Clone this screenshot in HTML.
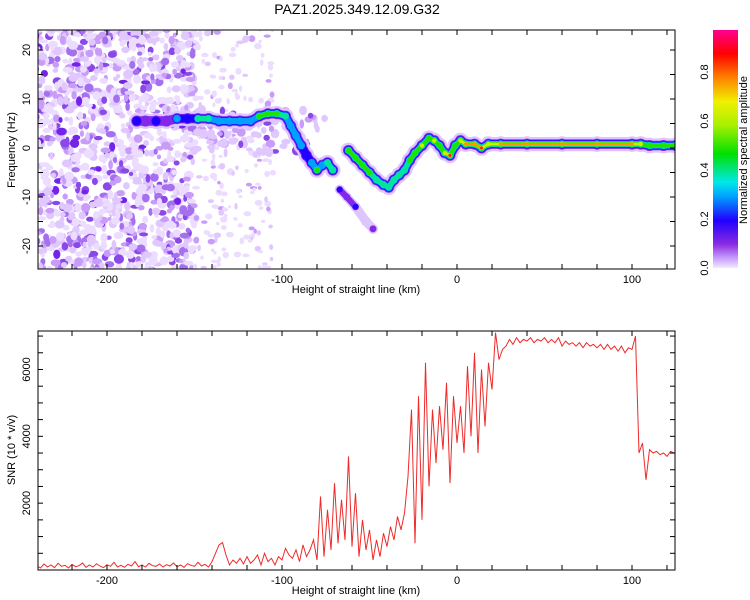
<!DOCTYPE html>
<html><head><meta charset="utf-8">
<style>
html,body{margin:0;padding:0;background:#fff;}
svg{display:block;font-family:"Liberation Sans",sans-serif;}
</style></head>
<body>
<svg id="chart" width="750" height="600" viewBox="0 0 750 600">
<defs>
<linearGradient id="cbar" x1="0" y1="1" x2="0" y2="0">
<stop offset="0" stop-color="#f2eaff"/>
<stop offset="0.04" stop-color="#c8a0ff"/>
<stop offset="0.1" stop-color="#8a2be2"/>
<stop offset="0.2" stop-color="#2000ff"/>
<stop offset="0.3" stop-color="#00a0ff"/>
<stop offset="0.36" stop-color="#00e8e8"/>
<stop offset="0.48" stop-color="#00e000"/>
<stop offset="0.6" stop-color="#a8f000"/>
<stop offset="0.7" stop-color="#f0f000"/>
<stop offset="0.8" stop-color="#ff8000"/>
<stop offset="0.9" stop-color="#ff0000"/>
<stop offset="1" stop-color="#ff0090"/>
</linearGradient>
<clipPath id="clipTop"><rect x="38" y="30" width="637" height="239"/></clipPath>
<clipPath id="clipBot"><rect x="38" y="331" width="637" height="239"/></clipPath>
</defs>
<text x="357" y="14" font-size="14" text-anchor="middle">PAZ1.2025.349.12.09.G32</text>
<g id="topPanel"></g>
<g id="botPanel"></g>
<g id="cbPanel"></g>
</svg>
<script>
// ---- data ----
const ridgeHeights = [-183,-178,-172,-166,-160,-154,-148,-142,-136,-130,-124,-118,-113,-108,-103,-98,-95,-92,-89,-86,-83,-80,-77,-74,-71];
const ridgeFreqs   = [5.5,5.5,5.5,5.5,6,6,6,6,5.5,5.5,5.5,5.5,6.5,7,7,6.5,4.5,2.5,0.5,-1.5,-3,-4.5,-3.5,-3,-4.5];
const ridgeAmps    = [0.2,0.15,0.2,0.15,0.3,0.2,0.45,0.45,0.3,0.35,0.3,0.35,0.5,0.6,0.6,0.45,0.35,0.3,0.3,0.25,0.3,0.5,0.35,0.45,0.4];
const branchHeights = [-67,-63,-58,-52,-48];
const branchFreqs   = [-8.5,-10,-12,-15,-16.5];
const branchAmps    = [0.25,0.1,0.2,0.08,0.15];
const mainHeights = [-62,-58,-54,-50,-46,-42,-39,-36,-33,-30,-27,-24,-20,-16,-13,-10,-7,-4,-1,2,5,10,14,18,25,40,60,80,100,105,110,118,125];
const mainFreqs   = [-0.5,-2,-3.5,-5,-6.5,-7.5,-8,-6.5,-5.5,-4.5,-2.5,-1,0.5,2,1.5,0.5,-1,-1.5,0.5,1.5,0.8,0.8,0,0.8,0.8,0.8,0.8,0.8,0.8,0.8,0.5,0.5,0.5];
const mainAmps    = [0.5,0.55,0.55,0.5,0.45,0.45,0.4,0.4,0.45,0.45,0.55,0.6,0.65,0.6,0.65,0.6,0.7,0.9,0.6,0.7,0.85,0.85,0.9,0.75,0.8,0.8,0.8,0.82,0.8,0.7,0.5,0.5,0.5];
const xTicks = [-200,-100,0,100];
const yTicksTop = [-20,-10,0,10,20];
const yTicksBot = [2000,4000,6000];
const cbTicks = [0.0,0.2,0.4,0.6,0.8];
const snrStart = -240, snrStep = 2;
const snrValues = [120,60,180,90,150,70,200,110,140,60,170,100,130,210,80,150,90,190,120,70,160,110,230,90,140,80,170,120,250,100,150,90,200,130,110,180,90,160,120,210,100,150,80,190,140,110,230,120,170,90,
250,500,750,820,450,150,300,200,350,180,400,200,300,450,150,500,250,350,150,400,300,650,450,350,600,250,750,400,600,900,300,
2200,400,1800,600,2600,800,2100,900,3400,700,2300,400,1500,600,1200,300,900,400,1100,700,1300,900,1600,1200,1700,
2800,4800,800,5200,1500,6200,2500,4800,3200,4900,3600,5600,2600,5200,3800,4900,3500,6100,4000,6500,3500,6000,4300,6200,5400,7100,6300,6600,
6700,6900,6750,6950,6800,6900,6850,6950,6800,6900,6850,6950,6800,6900,6800,6950,6700,6850,6750,6800,6700,6800,6650,6800,6700,6750,6650,6750,6600,6750,6600,6700,6550,6700,6500,6650,6600,7000,
3500,3800,2700,3600,3500,3550,3450,3500,3400,3550,3500];

// ---- scales ----
const NS="http://www.w3.org/2000/svg";
const L=38,R=675,T1=30,B1=269,T2=331,B2=570;
const xs = h => 457 + h*1.75;
const yf = f => 148 - f*4.9;
const ys = v => 570 - v*0.03342;
function mk(tag, attrs, parent){const e=document.createElementNS(NS,tag);for(const k in attrs)e.setAttribute(k,attrs[k]);parent.appendChild(e);return e;}
const gTopP=document.getElementById('topPanel'), gBotP=document.getElementById('botPanel'), gCb=document.getElementById('cbPanel');

function cmap(a){
  const st=[[0,[242,234,255]],[0.04,[215,185,255]],[0.1,[130,40,235]],[0.2,[32,0,255]],[0.3,[0,160,255]],[0.36,[0,232,232]],[0.48,[0,224,0]],[0.6,[168,240,0]],[0.7,[240,240,0]],[0.8,[255,128,0]],[0.9,[255,0,0]],[1,[255,0,144]]];
  for(let i=1;i<st.length;i++){if(a<=st[i][0]){const t=(a-st[i-1][0])/(st[i][0]-st[i-1][0]);const c=st[i-1][1].map((v,j)=>Math.round(v+(st[i][1][j]-v)*t));return `rgb(${c})`;}}
  return 'rgb(255,0,144)';
}

// ---- top panel: background speckle texture ----
const gTex=mk('g',{'clip-path':'url(#clipTop)'},gTopP);


let seed=12345; const rnd=()=>{seed=(seed*1103515245+12345)%2147483648;return seed/2147483648;};
const speckCols=['#ecdcff','#e0c8ff','#c89cf8','#a470ee','#8a48e8','#7424ea'];
for(let i=0;i<1150;i++){
  const h=-242+rnd()*92; const f=-25+rnd()*50; const r=rnd();
  const ci = r<0.35?0:(r<0.6?1:(r<0.78?2:(r<0.9?3:(r<0.97?4:5))));
  mk('ellipse',{cx:xs(h),cy:yf(f),rx:2+rnd()*3.2,ry:2+rnd()*2.8,fill:speckCols[ci]},gTex);
}
for(let i=0;i<220;i++){
  const h=-150+rnd()*45; const f=-25+rnd()*50; const r=rnd();
  const ci = r<0.65?0:(r<0.9?1:2);
  mk('ellipse',{cx:xs(h),cy:yf(f),rx:1.5+rnd()*2.5,ry:1.5+rnd()*2,fill:speckCols[ci]},gTex);
}
// haze under early ridge
for(let i=0;i<90;i++){
  const h=-150+rnd()*75; const f=-1+rnd()*9; const r=rnd();
  const ci = r<0.5?1:(r<0.8?2:4);
  mk('ellipse',{cx:xs(h),cy:yf(f),rx:2+rnd()*3,ry:2+rnd()*3,fill:speckCols[ci]},gTex);
}
// ---- ridges ----
function drawRidge(hs,fs,as,name,ws){
  const g=mk('g',{'clip-path':'url(#clipTop)'},gTopP);
  
  
  const layers=[[0.03,15],[0.1,10],[0.2,8],[0.3,6.5],[0.4,5.5],[0.5,4.2],[0.65,3],[0.78,2.2],[0.88,1.4]];
  layers.forEach(([th,w])=>{
    for(let i=0;i<hs.length-1;i++){
      const a=Math.min(as[i],as[i+1]);
      if(a<th) continue;
      mk('line',{x1:xs(hs[i]),y1:yf(fs[i]),x2:xs(hs[i+1]),y2:yf(fs[i+1]),stroke:cmap(th),'stroke-width':w*ws,'stroke-linecap':'round'},g);
    }
    for(let i=0;i<hs.length;i++){
      if(as[i]<th) continue;
      mk('circle',{cx:xs(hs[i]),cy:yf(fs[i]),r:(w/2+0.8)*ws,fill:cmap(th)},g);
    }
  });
}
drawRidge(ridgeHeights,ridgeFreqs,ridgeAmps,'ridge-early',0.95);
drawRidge(branchHeights,branchFreqs,branchAmps,'ridge-branch',0.6);
drawRidge(mainHeights,mainFreqs,mainAmps,'ridge-main',0.95);

// ---- axes helper ----
function axes(g,T,B,yTicks,yfun,yMinorStep,yMin,yMax,name){
  const fr=mk('rect',{x:L,y:T,width:R-L,height:B-T,fill:'none',stroke:'#000','stroke-width':1},g);
  
  
  for(let h=-240;h<=120;h+=20){
    const x=xs(h); if(x<L||x>R) continue;
    mk('line',{x1:x,y1:B,x2:x,y2:B-5,stroke:'#000'},g);
    mk('line',{x1:x,y1:T,x2:x,y2:T+5,stroke:'#000'},g);
  }
  xTicks.forEach(h=>{
    const t=mk('text',{x:xs(h),y:B+14,'font-size':11,'text-anchor':'middle'},g);
    t.textContent=h;
    
    
  });
  const xl=mk('text',{x:356,y:B+24,'font-size':11,'text-anchor':'middle'},g);
  xl.textContent='Height of straight line (km)';
  
  
  for(let v=Math.ceil(yMin/yMinorStep)*yMinorStep;v<=yMax;v+=yMinorStep){
    const y=yfun(v); if(y<T||y>B) continue;
    mk('line',{x1:L,y1:y,x2:L+5,y2:y,stroke:'#000'},g);
    mk('line',{x1:R,y1:y,x2:R-5,y2:y,stroke:'#000'},g);
  }
  yTicks.forEach(v=>{
    const y=yfun(v);
    const t=mk('text',{x:0,y:0,'font-size':11,'text-anchor':'middle',transform:`translate(30,${y}) rotate(-90)`},g);
    t.textContent=v;
    
    
  });
}
axes(gTopP,T1,B1,yTicksTop,yf,5,-25,25,'spectrogram');
const yt1=mk('text',{x:0,y:0,'font-size':11,'text-anchor':'middle',transform:'translate(15,150) rotate(-90)'},gTopP);
yt1.textContent='Frequency (Hz)';



// ---- bottom panel: SNR line ----
let d='';
snrValues.forEach((v,i)=>{const h=snrStart+i*snrStep; d+=(i?'L':'M')+xs(h).toFixed(1)+','+ys(v).toFixed(1);});
const line=mk('path',{d:d,fill:'none',stroke:'#ee2a2a','stroke-width':1,'clip-path':'url(#clipBot)'},gBotP);


axes(gBotP,T2,B2,yTicksBot,ys,500,0,7000,'snr');
const yt2=mk('text',{x:0,y:0,'font-size':11,'text-anchor':'middle',transform:'translate(15,450) rotate(-90)'},gBotP);
yt2.textContent='SNR (10 * v/v)';



// ---- colorbar ----
const cbY = a => 268 - a*245;
const cr=mk('rect',{x:713,y:30,width:25,height:238,fill:'url(#cbar)'},gCb);


cbTicks.forEach(a=>{
  const t=mk('text',{x:0,y:0,'font-size':11,'text-anchor':'middle',transform:`translate(708,${cbY(a)}) rotate(-90)`},gCb);
  t.textContent=a.toFixed(1);
  
  
});
const ct=mk('text',{x:0,y:0,'font-size':11,'text-anchor':'middle',transform:'translate(747,150) rotate(-90)'},gCb);
ct.textContent='Normalized spectral amplitude';


</script>
</body></html>
